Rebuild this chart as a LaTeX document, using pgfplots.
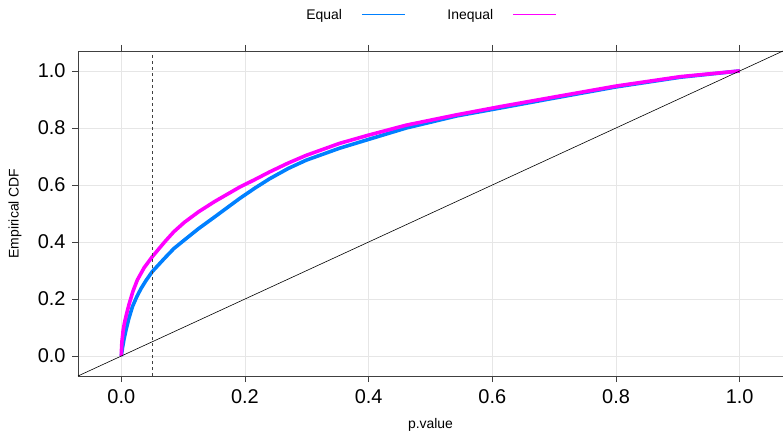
\documentclass[border=0pt]{standalone}
\usepackage{fontspec}
\setmainfont{Liberation Sans}
\usepackage{pgfplots}
\pgfplotsset{compat=1.18}
\usetikzlibrary{calc}

\definecolor{eqblue}{HTML}{0080FF}
\definecolor{ineqmag}{HTML}{FF00FF}
\definecolor{gridgray}{HTML}{E6E6E6}

\begin{document}
\begin{tikzpicture}
\begin{axis}[
    name=ax,
    scale only axis,
    width=705bp, height=325bp,
    xmin=-0.07, xmax=1.07,
    ymin=-0.07, ymax=1.07,
    xtick={0,0.2,...,1.0},
    ytick={0,0.2,...,1.0},
    xtick pos=both, ytick pos=left,
    tick align=outside,
    major tick length=6bp,
    every tick/.style={black!75, line width=0.8pt},
    axis line style={black!75, line width=0.8pt},
    grid=major,
    major grid style={gridgray, line width=0.8pt},
    /pgf/number format/assume math mode=true,
    /pgf/number format/fixed, /pgf/number format/fixed zerofill,
    /pgf/number format/precision=1,
    tick label style={font=\fontsize{20}{22}\selectfont},
    xticklabel style={yshift=-4bp},
    yticklabel style={xshift=-3bp},
    xlabel={p.value},
    ylabel={Empirical CDF},
    label style={font=\fontsize{14}{16}\selectfont},
    xlabel style={at={(axis description cs:0.5,0)}, anchor=center, yshift=-49bp},
    ylabel style={at={(axis description cs:0,0.5)}, anchor=center, yshift=63bp},
    legend columns=2,
    legend plot pos=right,
    legend style={draw=none, fill=none, at={(0.5,1)}, anchor=center, yshift=36bp,
        font=\fontsize{14}{16}\selectfont,
        /tikz/every even column/.append style={column sep=40bp}},
    legend image code/.code={
        \path[draw=none, fill=none] (0bp,0bp) -- (18bp,0bp);
        \draw[line width=1pt] (18bp,0bp) -- (61bp,0bp);},
]
% Equal
\addplot[eqblue, line width=3.6pt, line join=round] coordinates {
(0,0) (0.001,0.015) (0.002,0.03) (0.0045,0.06) (0.0076,0.091) (0.012,0.13)
(0.018,0.173) (0.025,0.208) (0.032,0.237) (0.04,0.265) (0.05,0.296)
(0.07,0.343) (0.085,0.377) (0.102,0.407) (0.125,0.447) (0.151,0.488)
(0.191,0.552) (0.216,0.589) (0.24,0.622) (0.27,0.658) (0.299,0.687)
(0.353,0.729) (0.40,0.76) (0.461,0.80) (0.542,0.842) (0.613,0.87)
(0.688,0.90) (0.80,0.944) (0.904,0.978) (1.0,1.0)
};
\addlegendentry{Equal}
% Inequal
\addplot[ineqmag, line width=3.6pt, line join=round] coordinates {
(0,0) (0.0005,0.03) (0.001,0.05) (0.003,0.09) (0.005,0.115) (0.009,0.152)
(0.013,0.185) (0.019,0.228) (0.026,0.267) (0.037,0.31) (0.05,0.348)
(0.07,0.40) (0.085,0.436) (0.102,0.469) (0.125,0.506) (0.151,0.542)
(0.191,0.592) (0.216,0.619) (0.24,0.646) (0.27,0.677) (0.299,0.704)
(0.353,0.746) (0.40,0.775) (0.461,0.81) (0.542,0.846) (0.613,0.875)
(0.688,0.904) (0.80,0.947) (0.904,0.98) (1.0,1.0)
};
\addlegendentry{Inequal}
% reference lines
\addplot[black, line width=0.6pt, forget plot] coordinates {(-0.07,-0.07) (1.07,1.07)};
\addplot[black!75, line width=0.8pt, dashed, dash pattern=on 3bp off 3bp, forget plot]
    coordinates {(0.05,-0.07) (0.05,1.07)};
\end{axis}
\pgfresetboundingbox
\useasboundingbox ($(ax.south west)+(-78bp,-57bp)$) rectangle ($(ax.north east)+(0bp,51bp)$);
\end{tikzpicture}
\end{document}
